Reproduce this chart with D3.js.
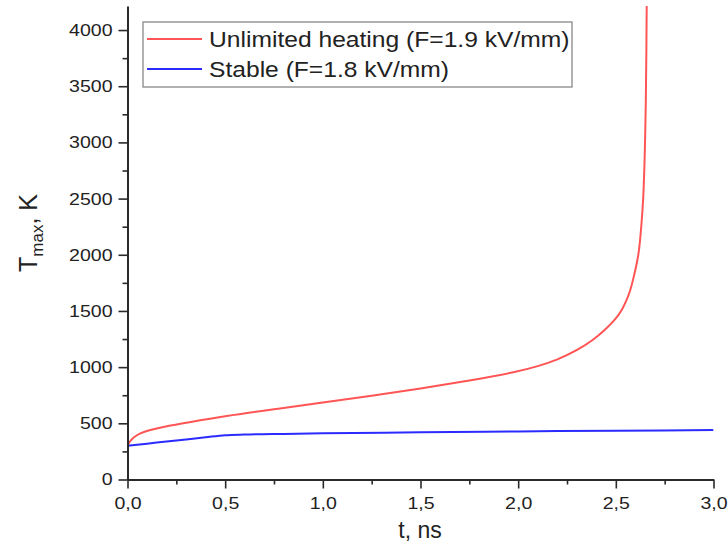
<!DOCTYPE html>
<html>
<head>
<meta charset="utf-8">
<script src="https://cdn.jsdelivr.net/npm/d3@7"></script>
<style>
  html, body { margin: 0; padding: 0; background: #fff; }
  svg { display: block; font-family: "Liberation Sans", Arial, sans-serif; }
</style>
</head>
<body>
<svg id="chart" width="728" height="554"></svg>
<script>
// Maximum temperature vs time for two applied fields
const unlimitedT = [0, 0.01, 0.03, 0.06, 0.11, 0.2, 0.3, 0.5, 0.75, 1.0, 1.25, 1.5, 1.75, 2.0, 2.1, 2.2, 2.306, 2.384, 2.444, 2.496, 2.532, 2.556, 2.575, 2.588, 2.606, 2.62, 2.631, 2.641, 2.649, 2.654, 2.6565, 2.658];
const unlimitedV = [300, 335, 375, 408, 440, 475, 505, 565, 625, 685, 745, 810, 880, 960, 1008, 1064, 1153, 1242, 1331, 1420, 1509, 1598, 1687, 1776, 1909, 2042, 2265, 2487, 2932, 3378, 3822, 4214];
const stableT = [0, 0.1, 0.2, 0.3, 0.4, 0.5, 0.6, 0.8, 1.0, 1.5, 2.0, 2.5, 3.0];
const stableV = [300, 319, 338, 357, 376, 394, 400, 406, 411, 420, 428, 434, 440];

const xTicks = [0, 0.5, 1.0, 1.5, 2.0, 2.5, 3.0];
const xMinor = [0.25, 0.75, 1.25, 1.75, 2.25, 2.75];
const yTicks = [0, 500, 1000, 1500, 2000, 2500, 3000, 3500, 4000];
const yMinor = [250, 750, 1250, 1750, 2250, 2750, 3250, 3750];

const legendLabels = ["Unlimited heating (F=1.9 kV/mm)", "Stable (F=1.8 kV/mm)"];
const seriesColors = ["#ff5555", "#2b2bff"];

const svg = d3.select("#chart");
const plotLeft = 127.5, plotRight = 713.5, plotTop = 6, plotBottom = 479.5;

const x = d3.scaleLinear().domain([0, 3]).range([plotLeft, plotRight]);
const y = d3.scaleLinear().domain([0, 4214]).range([plotBottom, plotTop]);

const axisColor = "#2a2a2a";
const textColor = "#222";
const fmtX = d => d3.format(".1f")(d).replace(".", ",");
const fmtY = d3.format("d");

// clip region for the curves
svg.append("clipPath").attr("id", "plotClip")
  .append("rect").attr("x", plotLeft).attr("y", plotTop - 1)
  .attr("width", plotRight - plotLeft).attr("height", plotBottom - plotTop + 1);

// curves: the runaway curve is smoothed with a B-spline, the stable one uses monotone interpolation
const curves = [d3.curveBasis, d3.curveMonotoneX];
const series = [
  d3.zip(unlimitedT, unlimitedV),
  d3.zip(stableT, stableV)
];
series.forEach((s, i) => {
  const line = d3.line().x(d => x(d[0])).y(d => y(d[1])).curve(curves[i]);
  svg.append("path")
    .datum(s)
    .attr("clip-path", "url(#plotClip)")
    .attr("fill", "none")
    .attr("stroke", seriesColors[i])
    .attr("stroke-width", 2)
    .attr("d", line);
});

// x axis
const xAxis = svg.append("g").attr("transform", `translate(0,${plotBottom})`)
  .call(d3.axisBottom(x).tickValues(xTicks).tickFormat(fmtX).tickSize(9).tickSizeOuter(0).tickPadding(8));
svg.append("g").attr("transform", `translate(0,${plotBottom})`)
  .call(d3.axisBottom(x).tickValues(xMinor).tickFormat("").tickSize(5).tickSizeOuter(0))
  .select(".domain").remove();

// y axis
const yAxis = svg.append("g").attr("transform", `translate(${plotLeft},0)`)
  .call(d3.axisLeft(y).tickValues(yTicks).tickFormat(fmtY).tickSize(9).tickSizeOuter(0).tickPadding(6));
svg.append("g").attr("transform", `translate(${plotLeft},0)`)
  .call(d3.axisLeft(y).tickValues(yMinor).tickFormat("").tickSize(5).tickSizeOuter(0))
  .select(".domain").remove();

svg.selectAll(".domain").attr("stroke", axisColor).attr("stroke-width", 2);
svg.selectAll(".tick line").attr("stroke", axisColor).attr("stroke-width", 1.6);

// tick labels, slightly widened
xAxis.selectAll(".tick text")
  .attr("font-size", 17).attr("fill", textColor)
  .attr("transform", "scale(1.15,1)");
yAxis.selectAll(".tick text")
  .attr("font-size", 17).attr("fill", textColor)
  .attr("transform", "scale(1.15,1)")
  .attr("x", -15 / 1.15);

// axis titles
svg.append("text")
  .attr("x", 420).attr("y", 538)
  .attr("text-anchor", "middle")
  .attr("font-size", 23).attr("fill", textColor)
  .text("t, ns");

const yTitle = svg.append("text")
  .attr("transform", "translate(37,233) rotate(-90)")
  .attr("text-anchor", "middle")
  .attr("font-size", 25).attr("fill", textColor);
yTitle.append("tspan").text("T");
yTitle.append("tspan").attr("font-size", 17).attr("dy", 6).text("max");
yTitle.append("tspan").attr("dy", -6).text(", K");

// legend
const lg = svg.append("g");
lg.append("rect")
  .attr("x", 143).attr("y", 22).attr("width", 429).attr("height", 65)
  .attr("fill", "#fff").attr("stroke", "#888").attr("stroke-width", 1.3);
legendLabels.forEach((lab, i) => {
  const cy = 39 + i * 30;
  lg.append("line")
    .attr("x1", 147).attr("x2", 202).attr("y1", cy).attr("y2", cy)
    .attr("stroke", seriesColors[i]).attr("stroke-width", 2);
  lg.append("text")
    .attr("transform", `translate(209,${cy + 8}) scale(1.145,1)`)
    .attr("font-size", 21.5).attr("fill", textColor)
    .text(lab);
});
</script>
</body>
</html>
